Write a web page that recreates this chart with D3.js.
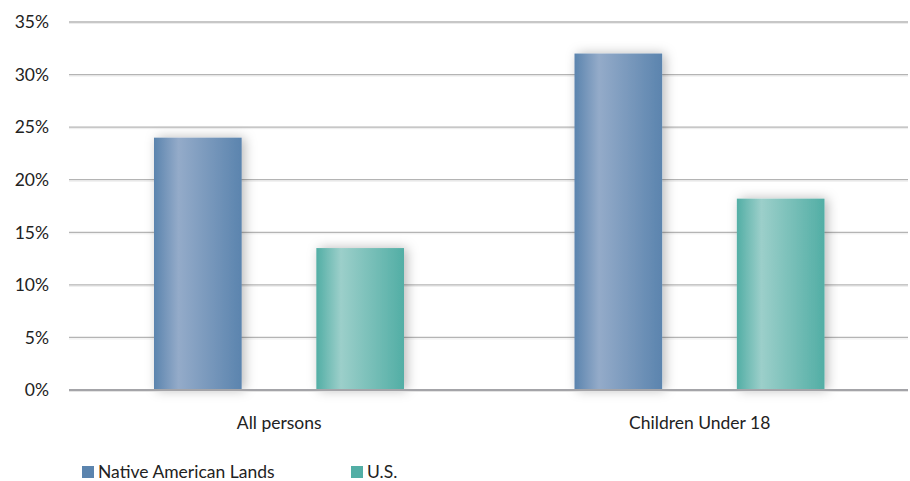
<!DOCTYPE html>
<html>
<head>
<meta charset="utf-8">
<script src="https://cdn.jsdelivr.net/npm/d3@7"></script>
<style>
  body { margin: 0; background: #fff; }
  svg { display: block; font-family: Lato, "Liberation Sans Narrow", sans-serif; }
</style>
</head>
<body>
<svg id="chart" width="910" height="481"></svg>
<script>
const categories = ["All persons", "Children Under 18"]
const seriesNames = ["Native American Lands", "U.S."]
const nativeValues = [24, 32]
const usValues = [13.5, 18.2]
const yTicks = [0, 5, 10, 15, 20, 25, 30, 35]

const colors = {
    "Native American Lands": {edge: "#5b84ae", light: "#94abc9"},
    "U.S.": {edge: "#52aea5", light: "#9ccfca"}
}

const margin = {top: 22, right: 0, bottom: 91, left: 69}
const width = 910
const height = 481
const fontSize = 17.5

const svg = d3.select("#chart")
const defs = svg.append("defs")

// horizontal gradients per series
seriesNames.forEach((name, i) => {
    const g = defs.append("linearGradient")
        .attr("id", "grad" + i)
        .attr("x1", "0%").attr("x2", "100%").attr("y1", "0%").attr("y2", "0%")
    g.append("stop").attr("offset", "0%").attr("stop-color", colors[name].edge)
    g.append("stop").attr("offset", "28%").attr("stop-color", colors[name].light)
    g.append("stop").attr("offset", "100%").attr("stop-color", colors[name].edge)
})

const shadow = defs.append("filter").attr("id", "shadow")
    .attr("x", "-30%").attr("y", "-10%").attr("width", "160%").attr("height", "120%")
shadow.append("feDropShadow")
    .attr("dx", 3).attr("dy", 0).attr("stdDeviation", 6)
    .attr("flood-color", "#000").attr("flood-opacity", 0.28)

const x0 = d3.scaleBand()
    .domain(categories)
    .range([margin.left, width - margin.right])
    .paddingInner(0).paddingOuter(0)

const x1 = d3.scaleBand()
    .domain(seriesNames)
    .range([85, 335])
    .paddingInner(0.46).paddingOuter(0)

const y = d3.scaleLinear()
    .domain([0, 35])
    .range([height - margin.bottom, margin.top])

// gridlines
const grid = svg.append("g")
grid.selectAll("line.shade")
    .data(yTicks.filter(d => d > 0))
    .enter().append("line")
    .attr("x1", margin.left).attr("x2", width - 2)
    .attr("y1", d => y(d) + 1.5).attr("y2", d => y(d) + 1.5)
    .attr("stroke", "#ececec").attr("stroke-width", 1)
grid.selectAll("line.main")
    .data(yTicks.filter(d => d > 0))
    .enter().append("line")
    .attr("x1", margin.left).attr("x2", width - 2)
    .attr("y1", d => y(d)).attr("y2", d => y(d))
    .attr("stroke", "#b4b4b4").attr("stroke-width", 1.3)

// y tick labels
svg.append("g")
    .selectAll("text")
    .data(yTicks)
    .enter().append("text")
    .attr("x", 49)
    .attr("y", d => y(d))
    .attr("dy", "0.36em")
    .attr("text-anchor", "end")
    .attr("font-size", fontSize)
    .attr("fill", "#222")
    .text(d => d + "%")

// bars
const data = categories.map((c, i) => ({
    category: c,
    values: [{name: seriesNames[0], value: nativeValues[i]}, {name: seriesNames[1], value: usValues[i]}]
}))

svg.append("g")
    .selectAll("g")
    .data(data)
    .enter().append("g")
    .attr("transform", d => "translate(" + x0(d.category) + ",0)")
    .selectAll("rect")
    .data(d => d.values)
    .enter().append("rect")
    .attr("x", d => x1(d.name))
    .attr("y", d => y(d.value))
    .attr("width", x1.bandwidth())
    .attr("height", d => y(0) - y(d.value))
    .attr("fill", d => "url(#grad" + seriesNames.indexOf(d.name) + ")")
    .attr("filter", "url(#shadow)")

// baseline
svg.append("line")
    .attr("x1", margin.left).attr("x2", width - 2)
    .attr("y1", y(0) + 1).attr("y2", y(0) + 1)
    .attr("stroke", "#e4e4e4").attr("stroke-width", 2)
svg.append("line")
    .attr("x1", margin.left).attr("x2", width - 2)
    .attr("y1", y(0)).attr("y2", y(0))
    .attr("stroke", "#a4a4a8").attr("stroke-width", 2)

// category labels
svg.append("g")
    .selectAll("text")
    .data(categories)
    .enter().append("text")
    .attr("x", d => x0(d) + x0.bandwidth() / 2)
    .attr("y", 429)
    .attr("text-anchor", "middle")
    .attr("font-size", fontSize)
    .attr("fill", "#222")
    .text(d => d)

// legend
const legendX = [82, 351]
const legend = svg.append("g")
    .selectAll("g")
    .data(seriesNames)
    .enter().append("g")
    .attr("transform", (d, i) => "translate(" + legendX[i] + ",466)")
legend.append("rect")
    .attr("width", 12).attr("height", 12)
    .attr("fill", d => colors[d].edge)
legend.append("text")
    .attr("x", 16).attr("y", 12)
    .attr("font-size", fontSize)
    .attr("fill", "#222")
    .text(d => d)
</script>
</body>
</html>
